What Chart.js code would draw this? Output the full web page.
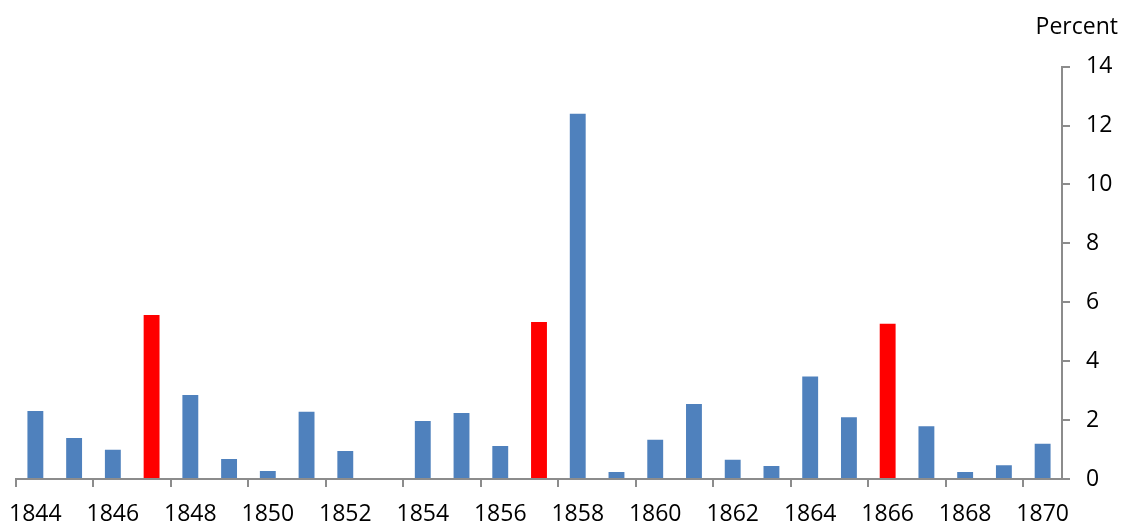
<!DOCTYPE html>
<html>
<head>
<meta charset="utf-8">
<script src="https://cdn.jsdelivr.net/npm/chart.js@4/dist/chart.umd.min.js"></script>
<style>
  body { margin: 0; background: #fff; }
  #wrap { width: 1122px; height: 522px; }
</style>
</head>
<body>
<div id="wrap"><canvas id="chart"></canvas></div>
<script>
// Data
const years = ['1844', '1845', '1846', '1847', '1848', '1849', '1850', '1851', '1852', '1853',
  '1854', '1855', '1856', '1857', '1858', '1859', '1860', '1861', '1862', '1863',
  '1864', '1865', '1866', '1867', '1868', '1869', '1870'];
const percentValues = [2.31, 1.39, 0.99, 5.57, 2.85, 0.68, 0.27, 2.28, 0.95, 0,
  1.97, 2.24, 1.12, 5.33, 12.4, 0.24, 1.33, 2.55, 0.65, 0.44,
  3.48, 2.1, 5.27, 1.79, 0.24, 0.47, 1.2];
const highlightYears = ['1847', '1857', '1866'];
const yTicks = [0, 2, 4, 6, 8, 10, 12, 14];

const blue = '#4F81BD';
const red = '#FF0000';
const axisGray = '#8c8c8c';
const font = { family: '"Open Sans", "Liberation Sans", sans-serif', size: 23 };

const barColors = years.map(y => highlightYears.includes(y) ? red : blue);

new Chart(document.getElementById('chart'), {
  type: 'bar',
  data: {
    labels: years,
    datasets: [{
      data: percentValues,
      backgroundColor: barColors,
      barPercentage: 0.41,
      categoryPercentage: 1.0
    }]
  },
  options: {
    responsive: true,
    maintainAspectRatio: false,
    animation: false,
    layout: { padding: { left: 16, right: 4, top: 0, bottom: 0 } },
    plugins: {
      legend: { display: false },
      tooltip: { enabled: false },
      title: {
        display: true,
        text: 'Percent',
        align: 'end',
        color: '#000',
        font: { ...font, weight: 'normal' },
        padding: { top: 14, bottom: 25 }
      }
    },
    scales: {
      x: {
        offset: true,
        afterFit: axis => {
          axis.height = 43;
          axis.paddingLeft = 0;
        },
        border: { display: true, color: axisGray, width: 2 },
        grid: {
          offset: true,
          drawOnChartArea: false,
          drawTicks: true,
          tickLength: 8,
          lineWidth: 2,
          color: ctx => (ctx.index % 2 === 0 ? axisGray : 'rgba(0,0,0,0)')
        },
        ticks: {
          autoSkip: false,
          maxRotation: 0,
          padding: 14,
          color: '#000',
          font: font,
          callback: (val, i) => (i % 2 === 0 ? years[i] : '')
        }
      },
      y: {
        position: 'right',
        min: 0,
        max: 14,
        afterBuildTicks: axis => { axis.ticks = yTicks.map(v => ({ value: v })); },
        afterFit: axis => { axis.width = 56; },
        border: { display: true, color: axisGray, width: 2 },
        grid: {
          drawOnChartArea: false,
          drawTicks: true,
          tickLength: 8,
          lineWidth: 2,
          color: axisGray
        },
        ticks: {
          padding: 16,
          color: '#000',
          font: font
        }
      }
    }
  }
});
</script>
</body>
</html>
